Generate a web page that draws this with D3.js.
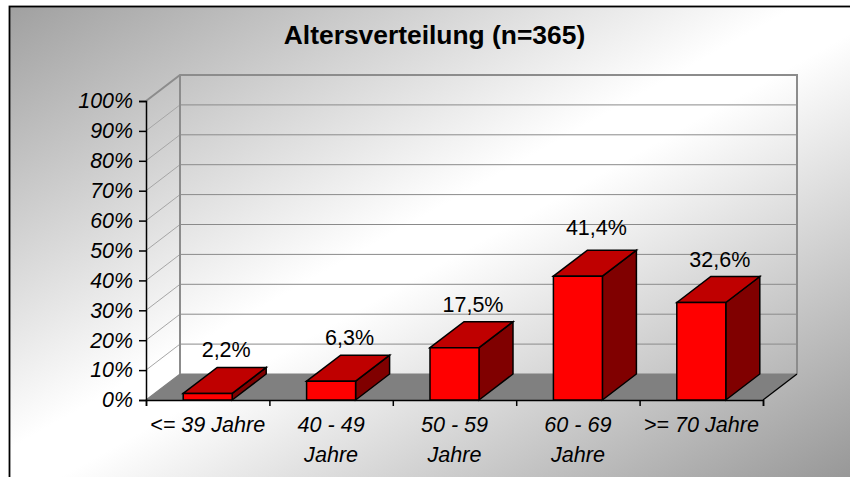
<!DOCTYPE html>
<html><head><meta charset="utf-8">
<script src="https://cdn.jsdelivr.net/npm/d3@7"></script>
<style>html,body{margin:0;padding:0;background:#fff}svg{display:block}text{font-family:"Liberation Sans",Arial,sans-serif;fill:#000}</style>
</head><body><svg id="c" width="850" height="477"></svg>
<script>
const title = "Altersverteilung (n=365)";
const categories = [["<= 39 Jahre"],["40 - 49","Jahre"],["50 - 59","Jahre"],["60 - 69","Jahre"],[">= 70 Jahre"]];
const values = [2.2,6.3,17.5,41.4,32.6];
const valueLabels = ["2,2%","6,3%","17,5%","41,4%","32,6%"];
const yTicks = [0,10,20,30,40,50,60,70,80,90,100];

const svg = d3.select("#c");
const x = d3.scaleBand().domain(d3.range(5)).range([146,763]).paddingInner(0).paddingOuter(0);
const y = d3.scaleLinear().domain([0,100]).range([400,101]);
const dx = 34, dy = -26, barW = 49;
const line = d3.line();

const defs = svg.append("defs");
const g = defs.append("linearGradient").attr("id","bg").attr("gradientUnits","userSpaceOnUse")
  .attr("x1",229).attr("y1",-117).attr("x2",631).attr("y2",599);
g.append("stop").attr("offset",0).attr("stop-color","#a0a0a0");
g.append("stop").attr("offset",0.47).attr("stop-color","#ffffff");
g.append("stop").attr("offset",0.53).attr("stop-color","#ffffff");
g.append("stop").attr("offset",1).attr("stop-color","#989898");

svg.append("rect").attr("x",9.5).attr("y",6.5).attr("width",850).attr("height",480)
  .attr("fill","url(#bg)").attr("stroke","#000").attr("stroke-width",1.8);

const x0 = x.range()[0], x1 = x.range()[1];
svg.append("path").attr("fill","#808080")
  .attr("d",line([[x0,400],[x0+dx,400+dy],[x1+dx,400+dy],[x1,400]])+"Z");
yTicks.forEach(t=>{
  const yy=y(t);
  if(t>0 && t<100){
    svg.append("path").attr("fill","none").attr("stroke","#a6a6a6").attr("stroke-width",1)
      .attr("d",line([[x0,yy],[x0+dx,yy+dy]]));
    svg.append("path").attr("fill","none").attr("stroke","#8a8a8a").attr("stroke-width",1)
      .attr("d",line([[x0+dx,yy+dy],[x1+dx,yy+dy]]));
  }
});
svg.append("path").attr("fill","none").attr("stroke","#808080").attr("stroke-width",1.2)
  .attr("d",line([[x0,y(0)],[x0+dx,y(0)+dy],[x1+dx,y(0)+dy]]));
svg.append("path").attr("fill","none").attr("stroke","#8c8c8c").attr("stroke-width",2)
  .attr("d",line([[x0,y(100)],[x0+dx,y(100)+dy],[x1+dx,y(100)+dy],[x1+dx,y(0)+dy]]));
svg.append("path").attr("fill","none").attr("stroke","#8c8c8c").attr("stroke-width",2)
  .attr("d",line([[x0+dx,y(100)+dy],[x0+dx,y(0)+dy]]));
svg.append("path").attr("fill","none").attr("stroke","#000").attr("stroke-width",1.3)
  .attr("d",line([[x1,400],[x1+dx,400+dy]]));

const yAxis = d3.axisLeft(y).tickValues(yTicks).tickSize(7).tickPadding(6).tickFormat(d=>d+"%");
const yg = svg.append("g").attr("transform",`translate(${x0},0)`).call(yAxis);
yg.selectAll("path,line").attr("stroke","#000").attr("stroke-width",1.5);
yg.selectAll("text").style("font-size","21.4px").style("font-style","italic");

const xs = d3.scaleLinear().domain([0,5]).range([x0,x1]);
const xg = svg.append("g").attr("transform","translate(0,400)")
  .call(d3.axisBottom(xs).tickValues(d3.range(6)).tickSize(6).tickFormat(""));
xg.selectAll("path,line").attr("stroke","#000").attr("stroke-width",1.5);

categories.forEach((lines,i)=>{
  const t = svg.append("text").attr("text-anchor","middle").style("font-size","21.6px").style("font-style","italic");
  lines.forEach((l,k)=>t.append("tspan").attr("x",x(i)+x.bandwidth()/2).attr("y",431.5+k*30).text(l));
});

values.forEach((v,i)=>{
  const l = x(i)+x.bandwidth()/2-barW/2, r=l+barW, b=y(0), t=y(v);
  const s = svg.append("g").attr("stroke","#000").attr("stroke-width",1.5).attr("stroke-linejoin","miter");
  s.append("path").attr("fill","#800000").attr("d",line([[r,b],[r+dx,b+dy],[r+dx,t+dy],[r,t]])+"Z");
  s.append("path").attr("fill","#bf0000").attr("d",line([[l,t],[l+dx,t+dy],[r+dx,t+dy],[r,t]])+"Z");
  s.append("path").attr("fill","#ff0000").attr("d",line([[l,b],[l,t],[r,t],[r,b]])+"Z");
  svg.append("text").attr("text-anchor","middle").attr("x",l+barW/2+18.5).attr("y",t+dy-10-(i==3?5:0))
    .style("font-size","21.5px").text(valueLabels[i]);
});

svg.append("text").attr("x",434.5).attr("y",44).attr("text-anchor","middle")
  .style("font-size","26.4px").style("font-weight","bold").text(title);
</script></body></html>
